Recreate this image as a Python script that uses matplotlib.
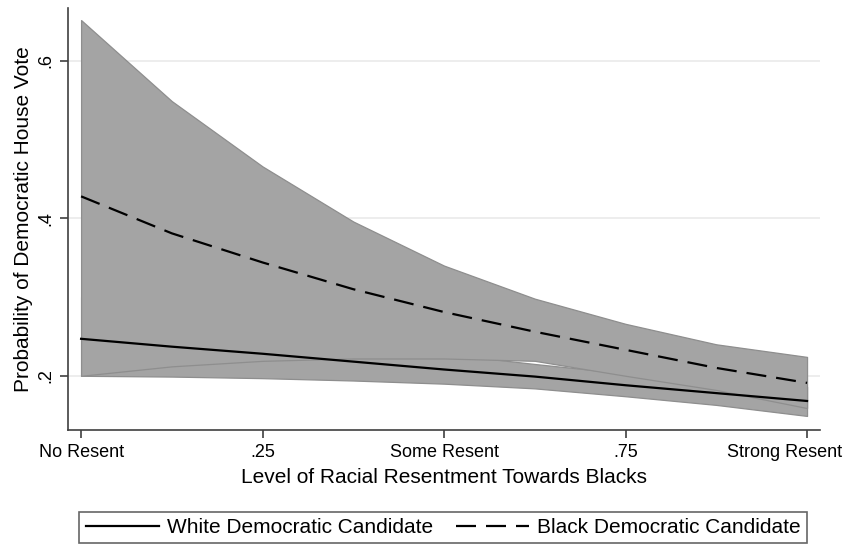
import numpy as np
import matplotlib.pyplot as plt
from matplotlib.transforms import ScaledTranslation

plt.rcParams['font.family'] = ['Liberation Sans', 'DejaVu Sans']

# predicted probabilities across racial resentment (0 = none, 1 = strong)
resent = [0, 0.125, 0.25, 0.375, 0.5, 0.625, 0.75, 0.875, 1]

black_pred = [0.428, 0.381, 0.344, 0.310, 0.281, 0.256, 0.233, 0.210, 0.191]
black_hi = [0.652, 0.549, 0.466, 0.396, 0.340, 0.298, 0.266, 0.240, 0.224]
black_lo = [0.200, 0.212, 0.219, 0.222, 0.222, 0.219, 0.200, 0.182, 0.159]

white_pred = [0.247, 0.237, 0.228, 0.218, 0.208, 0.199, 0.188, 0.178, 0.168]
white_hi = [0.300, 0.280, 0.262, 0.245, 0.228, 0.215, 0.203, 0.192, 0.186]
white_lo = [0.200, 0.199, 0.197, 0.194, 0.190, 0.184, 0.174, 0.163, 0.149]

xticks = [0, 0.25, 0.5, 0.75, 1]
xlabels = ['No Resent', '.25', 'Some Resent', '.75', 'Strong Resent']
yticks = [0.2, 0.4, 0.6]
ylabels = ['.2', '.4', '.6']

fig = plt.figure(figsize=(8.46, 5.5), dpi=100)
ax = fig.add_axes([0.0804, 0.218, 0.889, 0.767])

fill = '#a4a4a4'
edge = '#8e8e8e'
# white-candidate band first, black-candidate band on top of it
ax.fill_between(resent, white_lo, white_hi, facecolor=fill, edgecolor=edge,
                linewidth=0.9, zorder=2)
ax.fill_between(resent, black_lo, black_hi, facecolor=fill, edgecolor=edge,
                linewidth=0.9, zorder=2)

ax.plot(resent, white_pred, color='black', lw=1.6, zorder=3,
        label='White Democratic Candidate')
ax.plot(resent, black_pred, color='black', lw=1.6, dashes=(9, 4.5), zorder=3,
        label='Black Democratic Candidate')

ax.set_xlim(-0.018, 1.018)
ax.set_ylim(0.131, 0.667)
ax.set_xticks(xticks, xlabels, fontsize=13)
ax.set_yticks(yticks, ylabels, fontsize=13, rotation=90, va='center')
ax.yaxis.grid(True, color='#eaeaea', lw=1.2, zorder=0)
ax.set_axisbelow(True)
ax.tick_params(length=6, width=1.2, color='#404040', pad=4)

# keep the last tick label inside the figure
last = ax.get_xticklabels()[-1]
last.set_horizontalalignment('right')
last.set_transform(last.get_transform() + ScaledTranslation(0.35, 0, fig.dpi_scale_trans))

for s in ['top', 'right']:
    ax.spines[s].set_visible(False)
for s in ['left', 'bottom']:
    ax.spines[s].set_color('#404040')
    ax.spines[s].set_linewidth(1.2)

ax.set_xlabel('Level of Racial Resentment Towards Blacks', fontsize=15, labelpad=5)
ax.set_ylabel('Probability of Democratic House Vote', fontsize=15, labelpad=3)

leg = fig.legend(loc='center', bbox_to_anchor=(0.524, 0.041), ncol=2,
                 fontsize=15, handlelength=3.5, handletextpad=0.4,
                 columnspacing=1.1, frameon=True, fancybox=False,
                 borderpad=0.3, borderaxespad=0)
leg.get_frame().set_edgecolor('#404040')
leg.get_frame().set_linewidth(1.2)

fig.savefig('out.png', dpi=100)
